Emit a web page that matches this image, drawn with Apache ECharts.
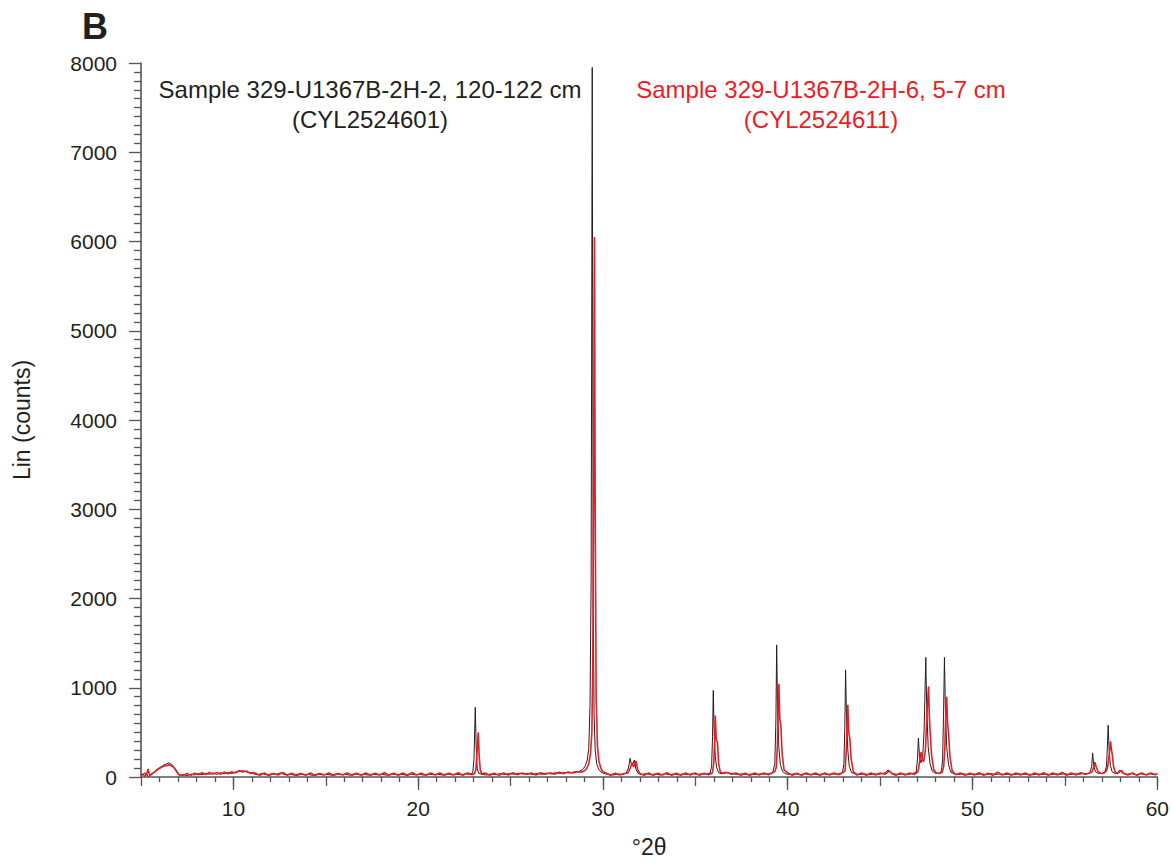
<!DOCTYPE html>
<html>
<head>
<meta charset="utf-8">
<title>XRD patterns B</title>
<script src="https://cdn.jsdelivr.net/npm/echarts@6/dist/echarts.min.js"></script>
<style>
  html, body {margin: 0; padding: 0; background: #fff;}
  #chart {width: 1172px; height: 863px;}
</style>
</head>
<body>
<div id="chart"></div>
<script>
// °2θ / counts pairs
const sampleBlack = [
  [5.0, 20], [5.1, 35], [5.2, 8], [5.3, 30], [5.4, 5], [5.5, 25], [5.6, 40], [5.7, 55], [5.8, 75], [5.9, 90],
  [6.0, 105], [6.1, 115], [6.2, 130], [6.3, 140], [6.4, 150], [6.5, 158], [6.6, 148], [6.7, 135], [6.8, 105], [6.9, 65],
  [7.0, 30], [7.1, 18], [7.3, 28], [7.5, 15], [7.7, 32], [7.9, 22], [8.1, 38], [8.3, 25], [8.5, 42], [8.7, 30],
  [8.9, 45], [9.1, 28], [9.3, 48], [9.5, 35], [9.7, 50], [9.9, 38], [10.1, 55], [10.3, 62], [10.5, 70], [10.7, 58],
  [10.9, 50], [11.1, 35], [11.3, 25], [11.55, 40], [11.8, 22], [12.05, 35], [12.3, 28], [12.55, 45], [12.8, 24], [13.05, 32],
  [13.3, 20], [13.55, 36], [13.8, 25], [14.05, 30], [14.3, 18], [14.55, 35], [14.8, 24], [15.05, 30], [15.3, 20], [15.55, 34],
  [15.8, 26], [16.05, 32], [16.3, 20], [16.55, 36], [16.8, 25], [17.05, 30], [17.3, 22], [17.55, 34], [17.8, 24], [18.05, 30],
  [18.3, 20], [18.55, 35], [18.8, 25], [19.05, 32], [19.3, 22], [19.55, 36], [19.8, 24], [20.05, 30], [20.3, 22], [20.55, 34],
  [20.8, 26], [21.05, 32], [21.3, 22], [21.55, 36], [21.8, 25], [22.05, 32], [22.3, 24], [22.55, 36], [22.8, 28],
  [22.95, 45], [23.02, 200], [23.09, 780], [23.14, 330], [23.2, 90], [23.28, 40],
  [23.45, 30], [23.7, 22], [23.95, 35], [24.2, 25], [24.45, 38], [24.7, 28], [24.95, 40], [25.2, 30], [25.45, 42], [25.7, 32],
  [25.95, 38], [26.2, 28], [26.45, 40], [26.7, 30], [26.95, 42], [27.2, 35], [27.45, 48], [27.7, 40], [27.95, 50], [28.2, 45],
  [28.45, 58], [28.7, 62], [28.85, 75], [28.95, 95], [29.05, 130], [29.15, 190], [29.23, 320], [29.3, 800], [29.36, 2200], [29.42, 7950],
  [29.47, 2000], [29.52, 700], [29.58, 300], [29.66, 150], [29.76, 90], [29.9, 55], [30.05, 40],
  [30.3, 30], [30.55, 22], [30.8, 35], [31.05, 28], [31.25, 40],
  [31.38, 100], [31.47, 210], [31.55, 130], [31.62, 150], [31.7, 190], [31.78, 90], [31.9, 40],
  [32.1, 28], [32.35, 38], [32.6, 25], [32.85, 35], [33.1, 22], [33.35, 36], [33.6, 26], [33.85, 34], [34.1, 24], [34.35, 35],
  [34.6, 26], [34.85, 38], [35.1, 28], [35.35, 36], [35.6, 30],
  [35.8, 45], [35.88, 120], [35.93, 450], [35.97, 970], [36.02, 480], [36.08, 230], [36.15, 110], [36.25, 50],
  [36.4, 35], [36.6, 55], [36.8, 45], [37.05, 35], [37.3, 28], [37.55, 36], [37.8, 25], [38.05, 34], [38.3, 26], [38.55, 36],
  [38.8, 30], [39.05, 38],
  [39.2, 55], [39.3, 150], [39.36, 650], [39.4, 1480], [39.45, 750], [39.52, 330], [39.6, 140], [39.72, 60],
  [39.9, 35], [40.15, 28], [40.4, 38], [40.65, 25], [40.9, 36], [41.15, 28], [41.4, 34], [41.65, 24], [41.9, 36], [42.15, 28],
  [42.4, 35], [42.65, 30], [42.85, 40],
  [42.97, 55], [43.04, 150], [43.09, 580], [43.13, 1200], [43.18, 680], [43.25, 300], [43.33, 120], [43.45, 50],
  [43.65, 35], [43.9, 28], [44.15, 36], [44.4, 25], [44.65, 35], [44.9, 30], [45.15, 40], [45.3, 50], [45.43, 80], [45.55, 50],
  [45.75, 35], [46.0, 28], [46.25, 36], [46.5, 28], [46.75, 38],
  [46.95, 55], [47.02, 200], [47.07, 437], [47.13, 220], [47.2, 160], [47.3, 220], [47.38, 520], [47.47, 1340], [47.52, 780], [47.6, 340],
  [47.7, 150], [47.82, 65], [47.95, 45], [48.1, 40], [48.22, 45], [48.32, 70], [48.38, 200], [48.43, 680], [48.48, 1340], [48.53, 780],
  [48.6, 340], [48.7, 140], [48.82, 55],
  [49.0, 35], [49.25, 28], [49.5, 38], [49.75, 25], [50.0, 35], [50.25, 28], [50.5, 36], [50.75, 25], [51.0, 38], [51.25, 28],
  [51.5, 36], [51.75, 26], [52.0, 34], [52.25, 25], [52.5, 36], [52.75, 28], [53.0, 34], [53.25, 24], [53.5, 36], [53.75, 28],
  [54.0, 34], [54.25, 25], [54.5, 36], [54.75, 28], [55.0, 38], [55.25, 26], [55.5, 36], [55.75, 30], [56.0, 38], [56.2, 35],
  [56.35, 45], [56.45, 120], [56.5, 270], [56.56, 130], [56.65, 60], [56.75, 45], [56.9, 40], [57.05, 42], [57.15, 50], [57.25, 120],
  [57.3, 350], [57.34, 580], [57.39, 320], [57.46, 130], [57.55, 60], [57.7, 40], [57.85, 45], [57.95, 75], [58.05, 60], [58.15, 38],
  [58.35, 30], [58.6, 38], [58.85, 25], [59.1, 35], [59.35, 28], [59.6, 36], [59.85, 26], [60.0, 32]
];

const sampleRed = [
  [5.0, 15], [5.1, 25], [5.2, 45], [5.3, 20], [5.38, 90], [5.45, 30], [5.5, 18], [5.6, 35], [5.7, 50], [5.8, 65],
  [5.9, 85], [6.0, 95], [6.1, 110], [6.2, 118], [6.3, 130], [6.4, 125], [6.5, 140], [6.6, 128], [6.7, 120], [6.8, 100],
  [6.9, 75], [7.0, 40], [7.1, 22], [7.3, 20], [7.5, 38], [7.7, 18], [7.9, 42], [8.1, 25], [8.3, 48], [8.5, 28],
  [8.7, 50], [8.9, 32], [9.1, 52], [9.3, 30], [9.5, 55], [9.7, 35], [9.9, 58], [10.1, 45], [10.3, 72], [10.5, 55],
  [10.7, 68], [10.9, 40], [11.1, 50],
  [11.42, 20], [11.67, 45], [11.92, 18], [12.17, 40], [12.42, 22], [12.67, 52], [12.92, 20], [13.17, 42], [13.42, 15], [13.67, 40],
  [13.92, 20], [14.17, 45], [14.42, 18], [14.67, 40], [14.92, 22], [15.17, 44], [15.42, 16], [15.67, 40], [15.92, 22], [16.17, 46],
  [16.42, 18], [16.67, 42], [16.92, 20], [17.17, 45], [17.42, 18], [17.67, 42], [17.92, 22], [18.17, 48], [18.42, 18], [18.67, 42],
  [18.92, 20], [19.17, 45], [19.42, 16], [19.67, 50], [19.92, 22], [20.17, 42], [20.42, 18], [20.67, 44], [20.92, 22], [21.17, 46],
  [21.42, 20], [21.67, 42], [21.92, 22], [22.17, 48], [22.42, 20], [22.67, 44], [22.92, 25], [23.05, 40],
  [23.12, 80], [23.18, 260], [23.25, 500], [23.3, 240], [23.36, 80], [23.45, 35],
  [23.62, 45], [23.87, 20], [24.12, 42], [24.37, 18], [24.62, 45], [24.87, 22], [25.12, 48], [25.37, 25], [25.62, 46], [25.87, 28],
  [26.12, 44], [26.37, 22], [26.62, 48], [26.87, 30], [27.12, 46], [27.37, 32], [27.62, 52], [27.87, 38], [28.12, 55], [28.37, 45],
  [28.62, 58], [28.85, 55],
  [29.0, 70], [29.12, 95], [29.22, 140], [29.32, 250], [29.4, 500], [29.45, 1300], [29.5, 3500], [29.54, 6050], [29.58, 3000], [29.63, 900],
  [29.7, 350], [29.78, 180], [29.88, 100], [30.0, 60], [30.15, 45],
  [30.4, 20], [30.65, 42], [30.9, 22], [31.15, 40], [31.35, 45],
  [31.48, 100], [31.58, 160], [31.66, 115], [31.72, 140], [31.79, 180], [31.88, 80], [32.0, 40],
  [32.22, 20], [32.47, 45], [32.72, 18], [32.97, 42], [33.22, 22], [33.47, 48], [33.72, 18], [33.97, 42], [34.22, 20], [34.47, 45],
  [34.72, 22], [34.97, 44], [35.22, 20], [35.47, 42], [35.72, 25], [35.92, 45],
  [36.0, 160], [36.05, 450], [36.08, 690], [36.13, 420], [36.2, 380], [36.26, 150], [36.35, 55],
  [36.5, 40], [36.7, 50], [36.95, 30], [37.2, 45], [37.45, 20], [37.7, 42], [37.95, 18], [38.2, 45], [38.45, 22], [38.7, 44],
  [38.95, 25], [39.15, 45], [39.3, 60],
  [39.38, 110], [39.44, 350], [39.48, 800], [39.52, 1045], [39.57, 650], [39.63, 570], [39.7, 250], [39.8, 80],
  [40.0, 45], [40.25, 20], [40.5, 42], [40.75, 18], [41.0, 45], [41.25, 22], [41.5, 44], [41.75, 20], [42.0, 46], [42.25, 22],
  [42.5, 44], [42.75, 25], [42.98, 50],
  [43.1, 70], [43.17, 300], [43.22, 650], [43.25, 810], [43.3, 500], [43.36, 430], [43.43, 200], [43.55, 60],
  [43.75, 22], [44.0, 45], [44.25, 20], [44.5, 44], [44.75, 22], [45.0, 45], [45.25, 30], [45.38, 50], [45.5, 70], [45.62, 40],
  [45.85, 20], [46.1, 44], [46.35, 22], [46.6, 45], [46.85, 28], [47.05, 60],
  [47.12, 150], [47.17, 220], [47.22, 280], [47.28, 200], [47.35, 170], [47.45, 300], [47.53, 700], [47.62, 1015], [47.66, 700], [47.7, 535],
  [47.78, 250], [47.9, 80], [48.05, 45], [48.2, 40], [48.35, 50], [48.44, 120], [48.5, 320], [48.55, 700], [48.6, 900], [48.65, 600],
  [48.7, 500], [48.78, 220], [48.9, 65],
  [49.1, 25], [49.35, 45], [49.6, 20], [49.85, 42], [50.1, 22], [50.35, 48], [50.6, 20], [50.85, 42], [51.1, 18], [51.35, 55],
  [51.6, 22], [51.85, 44], [52.1, 20], [52.35, 46], [52.6, 22], [52.85, 44], [53.1, 18], [53.35, 45], [53.6, 22], [53.85, 48],
  [54.1, 20], [54.35, 44], [54.6, 22], [54.85, 50], [55.1, 20], [55.35, 46], [55.6, 22], [55.85, 48], [56.1, 30], [56.35, 45],
  [56.48, 60], [56.55, 110], [56.62, 165], [56.7, 110], [56.8, 55], [56.95, 40], [57.1, 45], [57.22, 60], [57.3, 100], [57.36, 180],
  [57.42, 300], [57.47, 400], [57.52, 300], [57.56, 255], [57.63, 120], [57.72, 55], [57.85, 40], [57.98, 60], [58.06, 75], [58.15, 45],
  [58.4, 22], [58.65, 45], [58.9, 20], [59.15, 44], [59.4, 22], [59.65, 45], [59.9, 25], [60.0, 40]
];

const xLabelTicks = [10, 20, 30, 40, 50, 60];
const blackLabel = ["Sample 329-U1367B-2H-2, 120-122 cm", "(CYL2524601)"];
const redLabel = ["Sample 329-U1367B-2H-6, 5-7 cm", "(CYL2524611)"];

const FONT = "'Liberation Sans', Arial, Helvetica, sans-serif";
const AXIS_COLOR = "#555555";
const BLACK = "#231f20";
const RED = "#ed1c24";

const chart = echarts.init(document.getElementById("chart"), null, {renderer: "svg"});

const tickStyle = {color: AXIS_COLOR, width: 1.3};

const labelText = (text, x, y, color) => ({
  type: "text",
  x: x,
  y: y,
  style: {
    text: text,
    fontFamily: FONT,
    fontSize: 24,
    fill: color,
    textAlign: "center",
    textVerticalAlign: "middle",
  },
});

const option = {
  backgroundColor: "#ffffff",
  animation: false,
  grid: {left: 141, right: 14, top: 63, bottom: 82},
  xAxis: [
    {
      type: "value",
      min: 5,
      max: 60,
      interval: 5,
      position: "bottom",
      name: "°2θ",
      nameLocation: "middle",
      nameGap: 58,
      nameTextStyle: {fontFamily: FONT, fontSize: 23, color: "#231f20"},
      axisLine: {show: true, onZero: false, lineStyle: {color: AXIS_COLOR, width: 1.6}},
      axisTick: {show: true, length: 9, lineStyle: tickStyle},
      minorTick: {show: true, splitNumber: 5, length: 5, lineStyle: tickStyle},
      axisLabel: {
        margin: 21,
        fontFamily: FONT,
        fontSize: 21,
        color: "#231f20",
        formatter: (v) => (v % 10 === 0 ? String(v) : ""),
      },
      splitLine: {show: false},
      minorSplitLine: {show: false},
    },
    {
      type: "value",
      min: 5,
      max: 60,
      position: "bottom",
      axisLine: {show: false, onZero: false},
      axisTick: {show: true, length: 13, customValues: xLabelTicks, lineStyle: tickStyle},
      axisLabel: {show: false},
      splitLine: {show: false},
    },
  ],
  yAxis: {
    type: "value",
    min: 0,
    max: 8000,
    interval: 1000,
    name: "Lin (counts)",
    nameLocation: "middle",
    nameGap: 108,
    nameTextStyle: {fontFamily: FONT, fontSize: 23, color: "#231f20"},
    axisLine: {show: true, lineStyle: {color: AXIS_COLOR, width: 1.6}},
    axisTick: {show: true, length: 12, lineStyle: tickStyle},
    minorTick: {show: true, splitNumber: 10, length: 7, lineStyle: tickStyle},
    axisLabel: {margin: 24, fontFamily: FONT, fontSize: 21, color: "#231f20", formatter: (v) => String(v)},
    splitLine: {show: false},
    minorSplitLine: {show: false},
  },
  graphic: [
    {
      type: "text",
      left: 82,
      top: 8,
      style: {text: "B", fontFamily: FONT, fontWeight: "bold", fontSize: 36, fill: "#231f20"},
    },
    labelText(blackLabel[0], 370, 89, BLACK),
    labelText(blackLabel[1], 370, 119, BLACK),
    labelText(redLabel[0], 821, 89, RED),
    labelText(redLabel[1], 821, 119, RED),
  ],
  series: [
    {
      name: blackLabel[0],
      type: "line",
      xAxisIndex: 0,
      data: sampleBlack,
      showSymbol: false,
      lineStyle: {color: BLACK, width: 1},
      z: 2,
    },
    {
      name: redLabel[0],
      type: "line",
      xAxisIndex: 0,
      data: sampleRed,
      showSymbol: false,
      lineStyle: {color: RED, width: 1.6},
      z: 3,
    },
  ],
};

chart.setOption(option);
</script>
</body>
</html>
